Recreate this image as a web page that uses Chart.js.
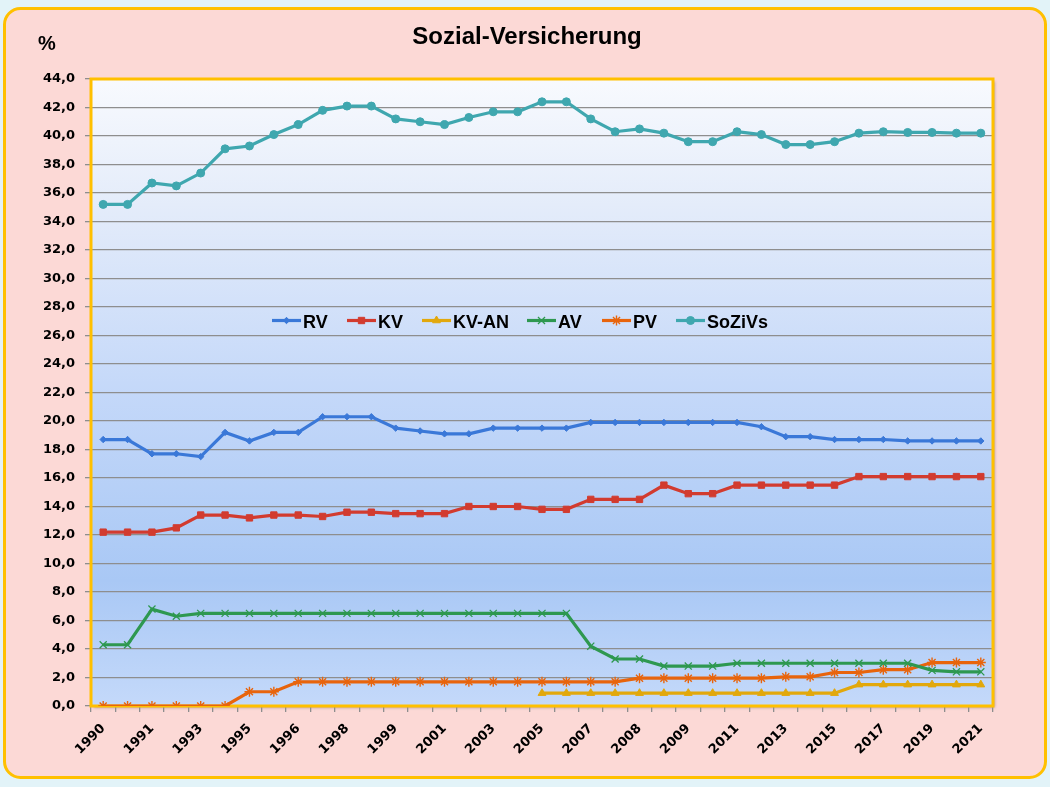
<!DOCTYPE html>
<html><head><meta charset="utf-8">
<script src="https://cdn.jsdelivr.net/npm/chart.js@4.4.1/dist/chart.umd.min.js"></script>
<style>html,body{margin:0;padding:0;background:#e2f3f8;overflow:hidden}#wrap{width:1050px;height:787px;position:relative}</style>
</head><body><div id="wrap"><canvas id="c" width="1050" height="787"></canvas></div>
<script>
const categories = ['1990','1991','1991','1992','1993','1994','1995','1996','1996','1997','1998','1999','1999','2000','2001','2002','2003','2004','2005','2006','2007','2008','2008','2009','2009','2010','2011','2012','2013','2014','2015','2016','2017','2018','2019','2020','2021'];
const yTicks = [0,2,4,6,8,10,12,14,16,18,20,22,24,26,28,30,32,34,36,38,40,42,44];
const RV = [18.7,18.7,17.7,17.7,17.5,19.2,18.6,19.2,19.2,20.3,20.3,20.3,19.5,19.3,19.1,19.1,19.5,19.5,19.5,19.5,19.9,19.9,19.9,19.9,19.9,19.9,19.9,19.6,18.9,18.9,18.7,18.7,18.7,18.6,18.6,18.6,18.6];
const KV = [12.2,12.2,12.2,12.5,13.4,13.4,13.2,13.4,13.4,13.3,13.6,13.6,13.5,13.5,13.5,14.0,14.0,14.0,13.8,13.8,14.5,14.5,14.5,15.5,14.9,14.9,15.5,15.5,15.5,15.5,15.5,16.1,16.1,16.1,16.1,16.1,16.1];
const KV_AN = [null,null,null,null,null,null,null,null,null,null,null,null,null,null,null,null,null,null,0.9,0.9,0.9,0.9,0.9,0.9,0.9,0.9,0.9,0.9,0.9,0.9,0.9,1.5,1.5,1.5,1.5,1.5,1.5];
const AV = [4.3,4.3,6.8,6.3,6.5,6.5,6.5,6.5,6.5,6.5,6.5,6.5,6.5,6.5,6.5,6.5,6.5,6.5,6.5,6.5,4.2,3.3,3.3,2.8,2.8,2.8,3.0,3.0,3.0,3.0,3.0,3.0,3.0,3.0,2.5,2.4,2.4];
const PV = [0,0,0,0,0,0,1.0,1.0,1.7,1.7,1.7,1.7,1.7,1.7,1.7,1.7,1.7,1.7,1.7,1.7,1.7,1.7,1.95,1.95,1.95,1.95,1.95,1.95,2.05,2.05,2.35,2.35,2.55,2.55,3.05,3.05,3.05];
const SoZiVs = [35.2,35.2,36.7,36.5,37.4,39.1,39.3,40.1,40.8,41.8,42.1,42.1,41.2,41.0,40.8,41.3,41.7,41.7,42.4,42.4,41.2,40.3,40.5,40.2,39.6,39.6,40.3,40.1,39.4,39.4,39.6,40.2,40.3,40.25,40.25,40.2,40.2];

const seriesNames = ['RV','KV','KV-AN','AV','PV','SoZiVs'];
const seriesData = [RV, KV, KV_AN, AV, PV, SoZiVs];
const seriesColors = ['#3a78d8','#d23b2f','#e2a80c','#2e9850','#e8640c','#3fa7af'];
const seriesPoints = [
  {style:'rectRot', r:3.2, bw:1},
  {style:'rect', r:4.5, bw:1},
  {style:'triangle', r:4.5, bw:1},
  {style:'crossRot', r:5, bw:1.3},
  {style:'star', r:5, bw:1.4},
  {style:'circle', r:4, bw:1}
];

const datasets = seriesData.map((d,i)=>({
  label: seriesNames[i],
  data: d,
  borderColor: seriesColors[i],
  backgroundColor: seriesColors[i],
  pointBorderColor: seriesColors[i],
  pointBackgroundColor: seriesColors[i],
  borderWidth: 3.2,
  pointStyle: seriesPoints[i].style,
  pointRadius: seriesPoints[i].r,
  pointBorderWidth: seriesPoints[i].bw,
  tension: 0,
  spanGaps: false
}));

const AREA = {left:91, top:79, right:993, bottom:706};

const decoPlugin = {
  id:'deco',
  beforeDraw(chart){
    const ctx = chart.ctx;
    ctx.save();
    ctx.fillStyle = '#e2f3f8';
    ctx.fillRect(0,0,chart.width,chart.height);
    ctx.beginPath();
    ctx.roundRect(4.5,8.5,1041,769,16);
    ctx.fillStyle = '#fcd9d6';
    ctx.fill();
    ctx.lineWidth = 3;
    ctx.strokeStyle = '#ffc000';
    ctx.stroke();
    const a = chart.chartArea;
    const g = ctx.createLinearGradient(0,a.top,0,a.bottom);
    g.addColorStop(0,'#f8fafe');
    g.addColorStop(0.2,'#e4ecfa');
    g.addColorStop(0.5,'#c4d8f9');
    g.addColorStop(0.8,'#a9c8f5');
    g.addColorStop(1,'#c4d9fa');
    ctx.shadowColor = 'rgba(0,0,0,0.35)';
    ctx.shadowBlur = 3;
    ctx.shadowOffsetX = 1.5;
    ctx.shadowOffsetY = 1.5;
    ctx.fillStyle = g;
    ctx.fillRect(a.left,a.top,a.right-a.left,a.bottom-a.top);
    ctx.restore();
  },
  beforeDatasetsDraw(chart){
    const ctx = chart.ctx, a = chart.chartArea;
    ctx.save();
    ctx.lineWidth = 3;
    ctx.strokeStyle = '#ffc000';
    ctx.strokeRect(a.left,a.top,a.right-a.left,a.bottom-a.top);
    ctx.restore();
  },
  afterDraw(chart){
    const ctx = chart.ctx;
    ctx.save();
    ctx.fillStyle = '#000';
    ctx.textAlign = 'center';
    ctx.textBaseline = 'alphabetic';
    ctx.font = 'bold 24px "Liberation Sans", Arial, sans-serif';
    ctx.fillText('Sozial-Versicherung', 527, 44);
    ctx.textAlign = 'left';
    ctx.font = 'bold 20px "Liberation Sans", Arial, sans-serif';
    ctx.fillText('%', 38, 50);
    // legend
    const starts = [272,347,422,527,602,676];
    const ly = 320.5;
    ctx.font = 'bold 18px "Liberation Sans", Arial, sans-serif';
    for (let i=0;i<seriesNames.length;i++){
      const x0 = starts[i];
      ctx.strokeStyle = seriesColors[i];
      ctx.lineWidth = 3.2;
      ctx.beginPath(); ctx.moveTo(x0,ly); ctx.lineTo(x0+29,ly); ctx.stroke();
      const p = seriesPoints[i];
      if (Chart.helpers && Chart.helpers.drawPoint){
        ctx.fillStyle = seriesColors[i];
        ctx.lineWidth = p.bw;
        Chart.helpers.drawPoint(ctx,{pointStyle:p.style,radius:p.r,rotation:0,borderWidth:p.bw},x0+14.5,ly);
      }
      ctx.fillStyle = '#000';
      ctx.fillText(seriesNames[i], x0+31, ly+7);
    }
    ctx.restore();
  }
};

new Chart(document.getElementById('c'),{
  type:'line',
  data:{labels:categories, datasets},
  options:{
    responsive:false,
    devicePixelRatio:1,
    animation:false,
    layout:{padding:{top:AREA.top, right:1050-AREA.right, bottom:0, left:0}},
    plugins:{legend:{display:false}, title:{display:false}, tooltip:{enabled:false}},
    scales:{
      x:{
        type:'category',
        offset:true,
        border:{display:false},
        grid:{offset:true, drawOnChartArea:false, drawTicks:true, tickLength:6, color:'#8e8e8e', lineWidth:1.3},
        ticks:{
          autoSkip:false, maxRotation:45, minRotation:45, padding:9, color:'#000',
          font:{family:'"DejaVu Sans", sans-serif', weight:'bold', size:13},
          callback:function(v,i){ return i%2===0 ? this.getLabelForValue(v) : ''; }
        },
        afterFit(s){ s.height = 787-AREA.bottom; }
      },
      y:{
        min:0, max:44,
        border:{display:false},
        afterBuildTicks(s){ s.ticks = yTicks.map(v=>({value:v})); },
        grid:{color:'#8e8e8e', lineWidth:1.3, tickLength:6, drawTicks:true},
        ticks:{
          color:'#000', padding:10,
          font:{family:'"DejaVu Sans", sans-serif', weight:'bold', size:13},
          callback:(v)=>Number(v).toFixed(1).replace('.',',')
        },
        afterFit(s){ s.width = AREA.left; }
      }
    }
  },
  plugins:[decoPlugin]
});
</script></body></html>
